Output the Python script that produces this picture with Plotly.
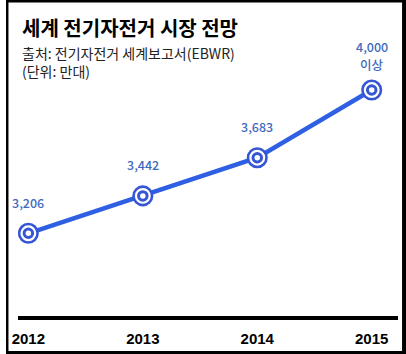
import plotly.graph_objects as go

# Data
years = [2012, 2013, 2014, 2015]
values = [3206, 3442, 3683, 4110]          # plotted positions (2015 drawn as "4,000 이상")
labels = ["3,206", "3,442", "3,683", "4,000|이상"]
tick_text = ["2012", "2013", "2014", "2015"]

W, H = 406, 354
LINE = "#2f5fe3"
RING = "#3656d6"
LABEL = "#4169bd"
FONT = "Noto Sans CJK KR, Noto Sans, sans-serif"

fig = go.Figure()
fig.add_trace(go.Scatter(
    x=years, y=values, mode="lines",
    line=dict(color=LINE, width=4.5), hoverinfo="skip"))
fig.add_trace(go.Scatter(
    x=years, y=values, mode="markers",
    marker=dict(size=18.5, color="white", line=dict(color=RING, width=2.6)),
    hoverinfo="skip"))
fig.add_trace(go.Scatter(
    x=years, y=values, mode="markers",
    marker=dict(size=8.5, color="white", line=dict(color=RING, width=3)),
    hoverinfo="skip"))

for xv, yv, t in zip(years, values, labels):
    parts = t.split("|")
    shifts = [31] if len(parts) == 1 else [44, 26]
    for p, s in zip(parts, shifts):
        fig.add_annotation(x=xv, y=yv, text=p, showarrow=False,
                           xanchor="center", yanchor="middle", yshift=s,
                           font=dict(family=FONT, size=12.5, color=LABEL,
                                     weight=500))

# x axis: domain 12..398 px, 116.1 px per year, 2012 at 22.7 px
x0p, x1p = 12, 398
ppy = (371.2 - 22.7) / 3
xr0 = 2012 - (22.7 - x0p) / ppy
xr1 = 2015 + (x1p - 371.2) / ppy

# y axis: domain from 315.7 px (from top) to top, scale 6.31 per px
ybot_px = 315.7
scale = (3683 - 3206) / (233.3 - 157.7)
yr0 = 3206 - (ybot_px - 233.3) * scale
yr1 = 3206 + 233.3 * scale

fig.update_layout(
    width=W, height=H,
    margin=dict(l=0, r=0, t=0, b=0),
    paper_bgcolor="white", plot_bgcolor="rgba(0,0,0,0)",
    showlegend=False,
    xaxis=dict(domain=[x0p / W, x1p / W], range=[xr0, xr1],
               tickvals=years, ticktext=tick_text,
               showgrid=False, zeroline=False,
               showline=True, linecolor="black", linewidth=4,
               ticks="", ticklabelstandoff=6,
               tickfont=dict(family="Liberation Sans, Arial, sans-serif",
                             size=15, color="black", weight="bold")),
    yaxis=dict(domain=[(H - ybot_px) / H, 1], range=[yr0, yr1],
               visible=False, showgrid=False, zeroline=False),
)

fig.add_annotation(xref="paper", yref="paper", x=14 / W, y=1 - 11 / H,
                   xanchor="left", yanchor="top", showarrow=False,
                   text="<b>세계 전기자전거 시장 전망</b>",
                   font=dict(family=FONT, size=20, color="black"))
fig.add_annotation(xref="paper", yref="paper", x=14 / W, y=1 - 41 / H,
                   xanchor="left", yanchor="top", showarrow=False, align="left",
                   text="출처: 전기자전거 세계보고서(EBWR)<br>(단위: 만대)",
                   font=dict(family=FONT, size=14, color="#222222"))

# black frame around the image
for (a, b, c, d) in [(0, 0, 2.5, H), (W - 4, 0, W, H), (0, 0, W, 2.5), (0, H - 3, W, H)]:
    fig.add_shape(type="rect", xref="paper", yref="paper",
                  x0=a / W, x1=c / W, y0=1 - d / H, y1=1 - b / H,
                  fillcolor="black", line=dict(width=0), layer="above")

fig.write_html("out.html")
